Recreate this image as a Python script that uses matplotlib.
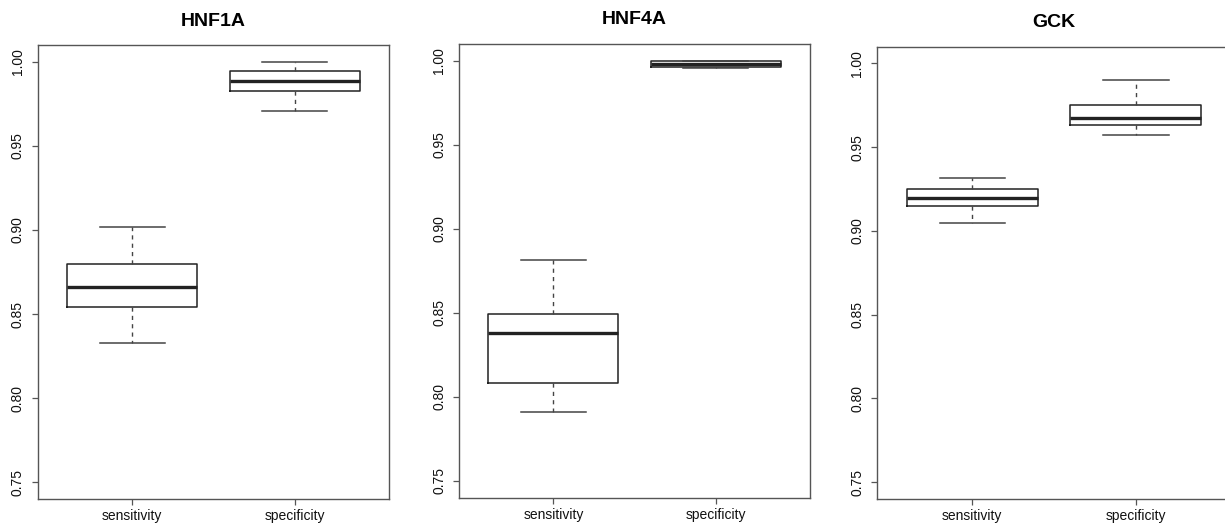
import matplotlib
matplotlib.use("Agg")
import matplotlib.pyplot as plt

plt.rcParams["font.family"] = ["Liberation Sans", "DejaVu Sans"]

genes      = ["HNF1A", "HNF4A", "GCK"]
categories = ["sensitivity", "specificity"]

# five-number summaries per gene
sens_whislo = [0.833, 0.791, 0.9045]
sens_q1     = [0.854, 0.808, 0.9147]
sens_med    = [0.866, 0.838, 0.9195]
sens_q3     = [0.880, 0.849, 0.9249]
sens_whishi = [0.902, 0.8815, 0.9317]

spec_whislo = [0.9705, 0.9955, 0.9573]
spec_q1     = [0.9827, 0.9960, 0.9635]
spec_med    = [0.9887, 0.9980, 0.9673]
spec_q3     = [0.9944, 0.9995, 0.9751]
spec_whishi = [1.000, 1.000, 0.9904]

y_ticks = [0.75, 0.80, 0.85, 0.90, 0.95, 1.00]

# axes rectangles in figure fraction (R-style layout, last panel runs off the edge)
axes_rects = [
    [0.0310, 0.0477, 0.2865, 0.8664],
    [0.3749, 0.0502, 0.2865, 0.8664],
    [0.7162, 0.0477, 0.2886, 0.8632],
]

fig = plt.figure(figsize=(12.25, 5.24), dpi=100)
frame_col = "#555555"
line_col = "#222222"

for gi, gene in enumerate(genes):
    ax = fig.add_axes(axes_rects[gi])
    stats = [
        {"label": categories[0], "whislo": sens_whislo[gi], "q1": sens_q1[gi],
         "med": sens_med[gi], "q3": sens_q3[gi], "whishi": sens_whishi[gi], "fliers": []},
        {"label": categories[1], "whislo": spec_whislo[gi], "q1": spec_q1[gi],
         "med": spec_med[gi], "q3": spec_q3[gi], "whishi": spec_whishi[gi], "fliers": []},
    ]
    ax.bxp(stats, positions=[1, 2], widths=0.8, capwidths=0.4, showfliers=False,
           boxprops=dict(color=line_col, linewidth=1.1),
           medianprops=dict(color=line_col, linewidth=2.4, solid_capstyle="butt"),
           whiskerprops=dict(color="#444444", linewidth=1.0, linestyle=(0, (3, 3))),
           capprops=dict(color="#444444", linewidth=1.1))

    ax.set_xlim(0.42, 2.58)
    ax.set_ylim(0.74, 1.01)
    ax.set_yticks(y_ticks)
    ax.set_yticklabels([f"{v:.2f}" for v in y_ticks], rotation=90, va="center")
    ax.set_xticks([1, 2])
    ax.set_xticklabels(categories)
    ax.tick_params(axis="both", direction="out", length=4.5, width=0.9,
                   color=frame_col, labelsize=10, labelcolor="#111111")
    ax.tick_params(axis="y", pad=5)
    ax.tick_params(axis="x", pad=3)
    for sp in ax.spines.values():
        sp.set_color(frame_col)
        sp.set_linewidth(1.0)
    ax.set_title(gene, fontsize=14, fontweight="bold", pad=14)

fig.savefig("out.png", dpi=100)
